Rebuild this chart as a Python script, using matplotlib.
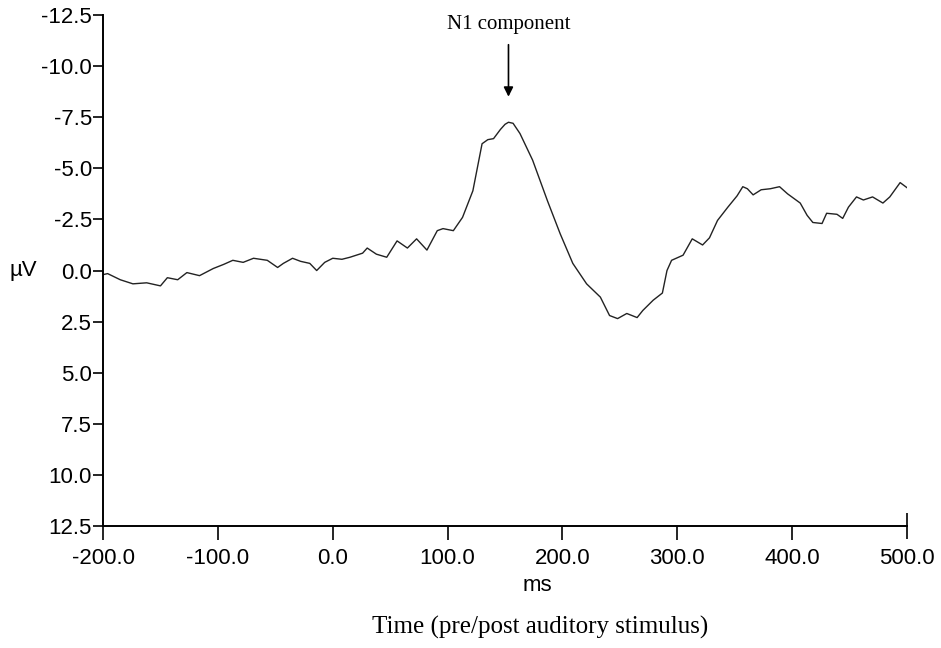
import matplotlib
matplotlib.use("Agg")
import matplotlib.pyplot as plt
from matplotlib.ticker import FuncFormatter

plt.rcParams['font.family'] = ['Liberation Sans', 'DejaVu Sans']
plt.rcParams['axes.unicode_minus'] = False

# ERP waveform (ms, microvolts)
time_ms = [-200, -196, -185, -174, -162, -150, -144, -135, -127, -116, -104, -95, -87, -78,
           -69, -57, -48, -43, -35, -28, -20, -14, -7, 0, 8, 15, 26, 30, 38, 47, 56, 65, 73,
           82, 91, 96, 105, 113, 122, 130, 135, 140, 146, 150, 153, 157, 163, 174, 187, 198,
           209, 221, 233, 241, 248, 256, 265, 270, 279, 287, 291, 295, 305, 313, 322, 328,
           335, 344, 352, 357, 361, 366, 373, 381, 389, 396, 407, 413, 418, 426, 430, 439,
           444, 449, 456, 462, 470, 479, 485, 494, 500]
amp_uv = [0.2, 0.15, 0.45, 0.65, 0.6, 0.75, 0.35, 0.45, 0.1, 0.25, -0.1, -0.3, -0.5, -0.4,
          -0.6, -0.5, -0.15, -0.35, -0.6, -0.45, -0.35, 0.0, -0.4, -0.6, -0.55, -0.65, -0.85,
          -1.1, -0.8, -0.65, -1.45, -1.1, -1.55, -1.0, -1.95, -2.05, -1.95, -2.6, -3.9, -6.2,
          -6.4, -6.45, -6.9, -7.15, -7.25, -7.2, -6.7, -5.4, -3.4, -1.8, -0.35, 0.65, 1.3,
          2.2, 2.35, 2.1, 2.3, 1.95, 1.45, 1.1, 0.0, -0.5, -0.75, -1.55, -1.25, -1.6, -2.45,
          -3.1, -3.65, -4.1, -4.0, -3.7, -3.95, -4.0, -4.1, -3.75, -3.3, -2.7, -2.35, -2.3,
          -2.8, -2.75, -2.55, -3.1, -3.6, -3.45, -3.6, -3.3, -3.6, -4.3, -4.05]

x_ticks = [-200, -100, 0, 100, 200, 300, 400, 500]
y_ticks = [-12.5, -10.0, -7.5, -5.0, -2.5, 0.0, 2.5, 5.0, 7.5, 10.0, 12.5]
n1_time = 153
n1_arrow_tip = -8.5

fig = plt.figure(figsize=(9.41, 6.48), dpi=100)
ax = fig.add_axes([0.1095, 0.188, 0.8544, 0.789])

ax.plot(time_ms, amp_uv, color='#222222', lw=1.0)

ax.set_xlim(-200, 500)
ax.set_ylim(12.5, -12.5)  # negative up
ax.set_xticks(x_ticks)
ax.set_yticks(y_ticks)
fmt = FuncFormatter(lambda v, p: f"{v:.1f}")
ax.xaxis.set_major_formatter(fmt)
ax.yaxis.set_major_formatter(fmt)

for s in ['top', 'right']:
    ax.spines[s].set_visible(False)
for s in ['left', 'bottom']:
    ax.spines[s].set_linewidth(1.4)
    ax.spines[s].set_color('black')
ax.tick_params(axis='x', length=10, width=1.2, labelsize=16, pad=6)
ax.tick_params(axis='y', length=7, width=1.2, labelsize=16, pad=1)

# last x tick crosses the axis
last = ax.xaxis.get_major_ticks()[-1]
last.tick1line.set_marker('|')
last.tick1line.set_markersize(19)

# axis labels
fig.text(0.0106, 0.583, "\u00b5V", ha='left', va='center', fontsize=16)
fig.text(0.571, 0.0957, "ms", ha='center', va='center', fontsize=16)
fig.text(0.574, 0.031, "Time (pre/post auditory stimulus)", ha='center', va='center',
         fontsize=18, family=['Liberation Serif', 'DejaVu Serif'])

# N1 annotation
ax.annotate("N1 component", xy=(n1_time, n1_arrow_tip), xytext=(n1_time, -12.05),
            ha='center', va='center', fontsize=15, family=['Liberation Serif', 'DejaVu Serif'],
            annotation_clip=False,
            arrowprops=dict(arrowstyle='-|>', color='black', lw=1.2, shrinkA=6, shrinkB=0,
                            mutation_scale=14))

fig.savefig("out.png", dpi=100)
